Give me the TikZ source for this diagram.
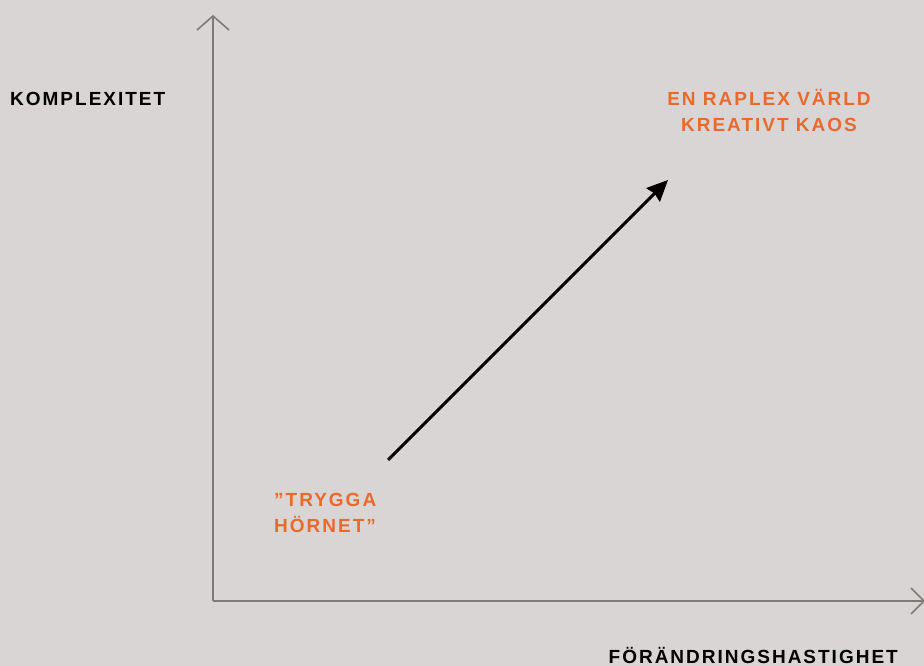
\documentclass[tikz,border=0pt]{standalone}
\usepackage{fontspec}
\setmainfont{Liberation Sans}
\newfontfamily\trackfont[LetterSpace=10.5]{Liberation Sans}
\usetikzlibrary{arrows.meta}
\definecolor{bgc}{HTML}{D9D5D4}
\definecolor{axisc}{HTML}{7F7B79}
\definecolor{orangec}{HTML}{EA6A2C}
\tikzset{
  axisline/.style={draw=axisc, line width=1.6pt},
  chev/.style={draw=axisc, line width=1.6pt},
  lbl/.style={inner sep=0pt, font=\trackfont\bfseries\fontsize{19}{26}\selectfont},
  olbl/.style={lbl, text=orangec},
}
\begin{document}
\begin{tikzpicture}[x=1pt,y=-1pt]
\fill[bgc] (0,0) rectangle (924,666);
\useasboundingbox (0,0) rectangle (924,666);
\coordinate (origin) at (213,601);
\coordinate (ytop) at (213,16);
\coordinate (xend) at (924,601);
\draw[axisline] (origin) -- (ytop);
\draw[axisline] (origin) -- (xend);
\draw[chev] (197,30) -- (ytop) -- (229,30);
\draw[chev] (911,588) -- (xend) -- (911,614);
\node[lbl, anchor=base west] (ylab) at (10,106) {KOMPLEXITET};
\node[lbl, anchor=base east] (xlab) at (898,663.5) {FÖRÄNDRINGSHASTIGHET};
\node[olbl, anchor=base, align=center] (top) at (769,132) {EN RAPLEX VÄRLD\\KREATIVT KAOS};
\node[olbl, anchor=base west, align=left] (corner) at (274,532) {”TRYGGA\\HÖRNET”};
\coordinate (as) at (388,460);
\coordinate (ae) at (668,180);
\draw[line width=3pt, -{Stealth[length=21pt,width=19pt,inset=2pt]}] (as) -- (ae);
\end{tikzpicture}
\end{document}
